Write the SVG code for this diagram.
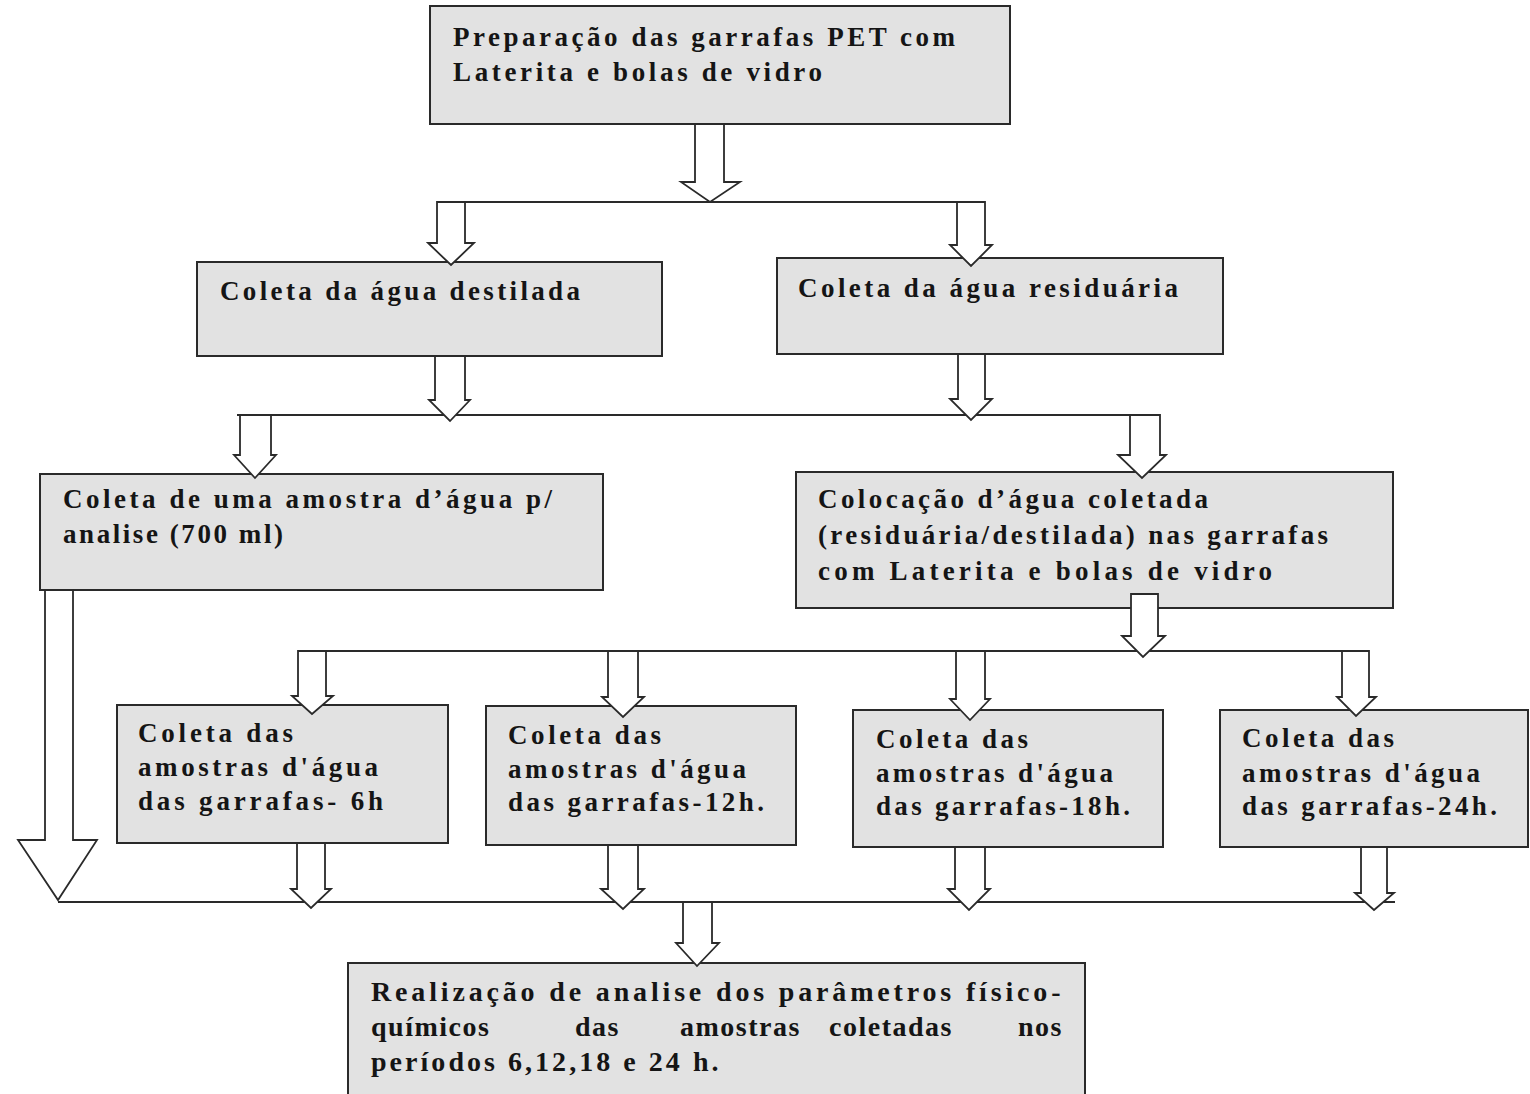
<svg xmlns="http://www.w3.org/2000/svg" width="1530" height="1094" viewBox="0 0 1530 1094">
<style>
.box{fill:#e2e2e2;stroke:#2a2a2a;stroke-width:2}
.t{font-family:"Liberation Serif","Times New Roman",serif;font-weight:bold;font-size:27px;fill:#151515}
.f{font-size:28px;letter-spacing:1.5px}
.arr{fill:#ffffff;stroke:#2a2a2a;stroke-width:1.8;stroke-linejoin:miter}
.ln{fill:none;stroke:#2a2a2a;stroke-width:1.8}
</style>
<rect width="1530" height="1094" fill="#ffffff"/>
<g id="nodes">
<g id="n-preparacao">
<rect class="box" x="430" y="6" width="580" height="118"/>
<text class="t" x="453" y="46" textLength="502" lengthAdjust="spacing">Preparação das garrafas PET com</text>
<text class="t" x="453" y="81" textLength="369" lengthAdjust="spacing">Laterita e bolas de vidro</text>
</g>
<g id="n-destilada">
<rect class="box" x="197" y="262" width="465" height="94"/>
<text class="t" x="220" y="300" textLength="360" lengthAdjust="spacing">Coleta da água destilada</text>
</g>
<g id="n-residuaria">
<rect class="box" x="777" y="258" width="446" height="96"/>
<text class="t" x="798" y="297" textLength="380" lengthAdjust="spacing">Coleta da água residuária</text>
</g>
<g id="n-amostra">
<rect class="box" x="40" y="474" width="563" height="116"/>
<text class="t" x="63" y="508" textLength="489" lengthAdjust="spacing">Coleta de uma amostra d’água p/</text>
<text class="t" x="63" y="543" textLength="220" lengthAdjust="spacing">analise (700 ml)</text>
</g>
<g id="n-colocacao">
<rect class="box" x="796" y="472" width="597" height="136"/>
<text class="t" x="818" y="508" textLength="390" lengthAdjust="spacing">Colocação d’água coletada</text>
<text class="t" x="818" y="544" textLength="510" lengthAdjust="spacing">(residuária/destilada) nas garrafas</text>
<text class="t" x="818" y="580" textLength="454" lengthAdjust="spacing">com Laterita e bolas de vidro</text>
</g>
<g id="n-6h">
<rect class="box" x="117" y="705" width="331" height="138"/>
<text class="t" x="138" y="742" textLength="155" lengthAdjust="spacing">Coleta das</text>
<text class="t" x="138" y="776" textLength="240" lengthAdjust="spacing">amostras d'água</text>
<text class="t" x="138" y="810" textLength="245" lengthAdjust="spacing">das garrafas-  6h</text>
</g>
<g id="n-12h">
<rect class="box" x="486" y="706" width="310" height="139"/>
<text class="t" x="508" y="744" textLength="153" lengthAdjust="spacing">Coleta das</text>
<text class="t" x="508" y="778" textLength="238" lengthAdjust="spacing">amostras d'água</text>
<text class="t" x="508" y="811" textLength="256" lengthAdjust="spacing">das garrafas-12h.</text>
</g>
<g id="n-18h">
<rect class="box" x="853" y="710" width="310" height="137"/>
<text class="t" x="876" y="748" textLength="152" lengthAdjust="spacing">Coleta das</text>
<text class="t" x="876" y="782" textLength="237" lengthAdjust="spacing">amostras d'água</text>
<text class="t" x="876" y="815" textLength="254" lengthAdjust="spacing">das garrafas-18h.</text>
</g>
<g id="n-24h">
<rect class="box" x="1220" y="710" width="308" height="137"/>
<text class="t" x="1242" y="747" textLength="152" lengthAdjust="spacing">Coleta das</text>
<text class="t" x="1242" y="782" textLength="238" lengthAdjust="spacing">amostras d'água</text>
<text class="t" x="1242" y="815" textLength="255" lengthAdjust="spacing">das garrafas-24h.</text>
</g>
<g id="n-analise">
<rect class="box" x="348" y="963" width="737" height="140"/>
<text class="t f" x="371" y="1001" textLength="691" lengthAdjust="spacing">Realização de analise dos parâmetros físico-</text>
<text class="t f" y="1036"><tspan x="371">químicos</tspan><tspan x="575">das</tspan><tspan x="680">amostras</tspan><tspan x="829">coletadas</tspan><tspan x="1018">nos</tspan></text>
<text class="t f" x="371" y="1071" textLength="349" lengthAdjust="spacing">períodos 6,12,18 e 24 h.</text>
</g>
</g>
<g id="connectors">
<line class="ln" x1="437" y1="202" x2="985" y2="202"/>
<line class="ln" x1="237" y1="415" x2="1160" y2="415"/>
<line class="ln" x1="298" y1="651" x2="1369" y2="651"/>
<line class="ln" x1="58" y1="902" x2="1395" y2="902"/>
<polygon class="arr" points="695,124 724,124 724,182 740,182 710,202 681,182 695,182"/>
<polygon class="arr" points="437,202 465,202 465,243 474,243 451,265 428,243 437,243"/>
<polygon class="arr" points="957,202 985,202 985,245 992,245 971,266 950,245 957,245"/>
<polygon class="arr" points="435,356 465,356 465,400 470,400 450,421 429,400 435,400"/>
<polygon class="arr" points="958,354 985,354 985,399 992,399 971,420 950,399 958,399"/>
<polygon class="arr" points="240,415 271,415 271,455 276,455 255,478 234,455 240,455"/>
<polygon class="arr" points="1130,415 1160,415 1160,455 1166,455 1142,478 1118,455 1130,455"/>
<polygon class="arr" points="1131,594 1158,594 1158,636 1165,636 1143,657 1122,636 1131,636"/>
<polygon class="arr" points="298,651 326,651 326,696 333,696 312,714 292,696 298,696"/>
<polygon class="arr" points="608,651 638,651 638,697 644,697 623,717 602,697 608,697"/>
<polygon class="arr" points="956,651 985,651 985,699 990,699 970,720 950,699 956,699"/>
<polygon class="arr" points="1342,651 1369,651 1369,697 1376,697 1356,716 1337,697 1342,697"/>
<polygon class="arr" points="297,843 325,843 325,889 331,889 311,908 291,889 297,889"/>
<polygon class="arr" points="608,845 638,845 638,889 644,889 623,909 601,889 608,889"/>
<polygon class="arr" points="955,847 985,847 985,889 990,889 969,910 948,889 955,889"/>
<polygon class="arr" points="1361,847 1387,847 1387,893 1394,893 1374,910 1355,893 1361,893"/>
<polygon class="arr" points="45,590 73,590 73,840 97,840 58,900 18,840 45,840"/>
<polygon class="arr" points="683,902 712,902 712,943 719,943 697,966 676,943 683,943"/>
</g>
</svg>
